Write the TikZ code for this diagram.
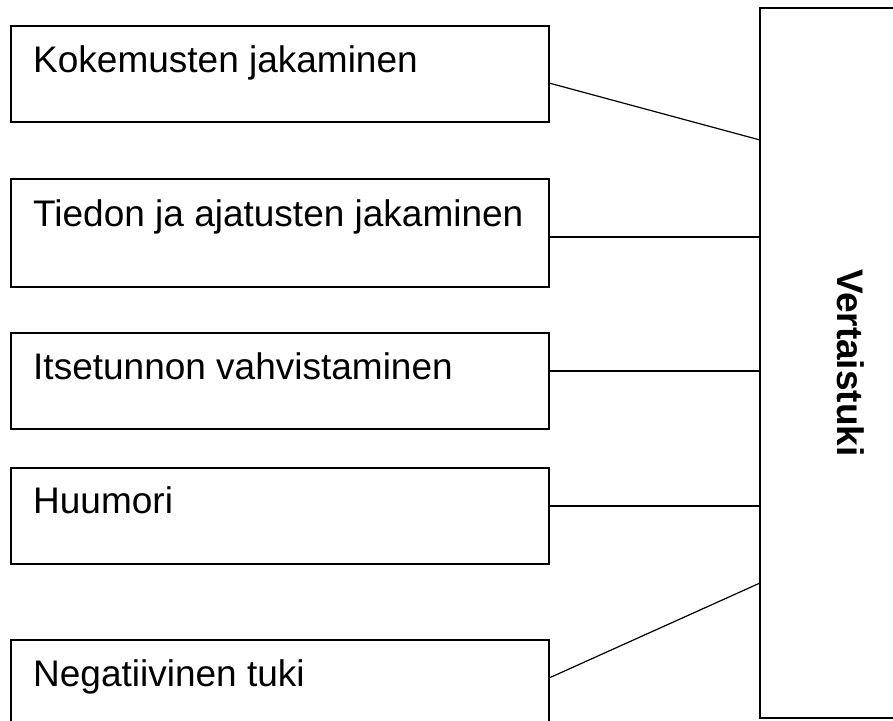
\documentclass[tikz,border=0pt]{standalone}
\usepackage{fontspec}
\setmainfont{Liberation Sans}
\begin{document}
\begin{tikzpicture}[x=1pt,y=-1pt,
  box/.style={draw=black,line width=1.3pt,fill=white,minimum width=538pt,inner sep=0pt,outer sep=0pt},
  lbl/.style={anchor=base west,inner sep=0pt,font=\fontsize{37}{44}\selectfont},
  conn/.style={draw=black,line width=1.2pt}]
\clip (0,0) rectangle (893,720);
\fill[white] (0,0) rectangle (893,720);
% right box
\node[box,minimum width=182pt,minimum height=710pt] (vt) at (851,363) {};
\node[rotate=-90,inner sep=0pt,font=\fontsize{37}{44}\selectfont\bfseries] (vtt) at (vt.center) {Vertaistuki};
% left boxes
\node[box,minimum height=96pt] (b1) at (280,74) {};
\node[lbl] (t1) at (33,72) {Kokemusten jakaminen};
\node[box,minimum height=108pt] (b2) at (280,233) {};
\node[lbl] (t2) at (33,226) {Tiedon ja ajatusten jakaminen};
\node[box,minimum height=96pt] (b3) at (280,381) {};
\node[lbl] (t3) at (33,379) {Itsetunnon vahvistaminen};
\node[box,minimum height=96pt] (b4) at (280,516) {};
\node[lbl] (t4) at (33,513) {Huumori};
\node[box,minimum height=96pt] (b5) at (280,688) {};
\node[lbl] (t5) at (33,686) {Negatiivinen tuki};
% connectors
\draw[conn] ([yshift=-9pt]b1.east) -- ([yshift=223pt]vt.west);
\draw[conn] ([yshift=-4pt]b2.east) -- ([yshift=126pt]vt.west);
\draw[conn] ([yshift=10pt]b3.east) -- ([yshift=-8pt]vt.west);
\draw[conn] ([yshift=10pt]b4.east) -- ([yshift=-143pt]vt.west);
\draw[conn] ([yshift=10pt]b5.east) -- ([yshift=-220pt]vt.west);
\end{tikzpicture}
\end{document}
